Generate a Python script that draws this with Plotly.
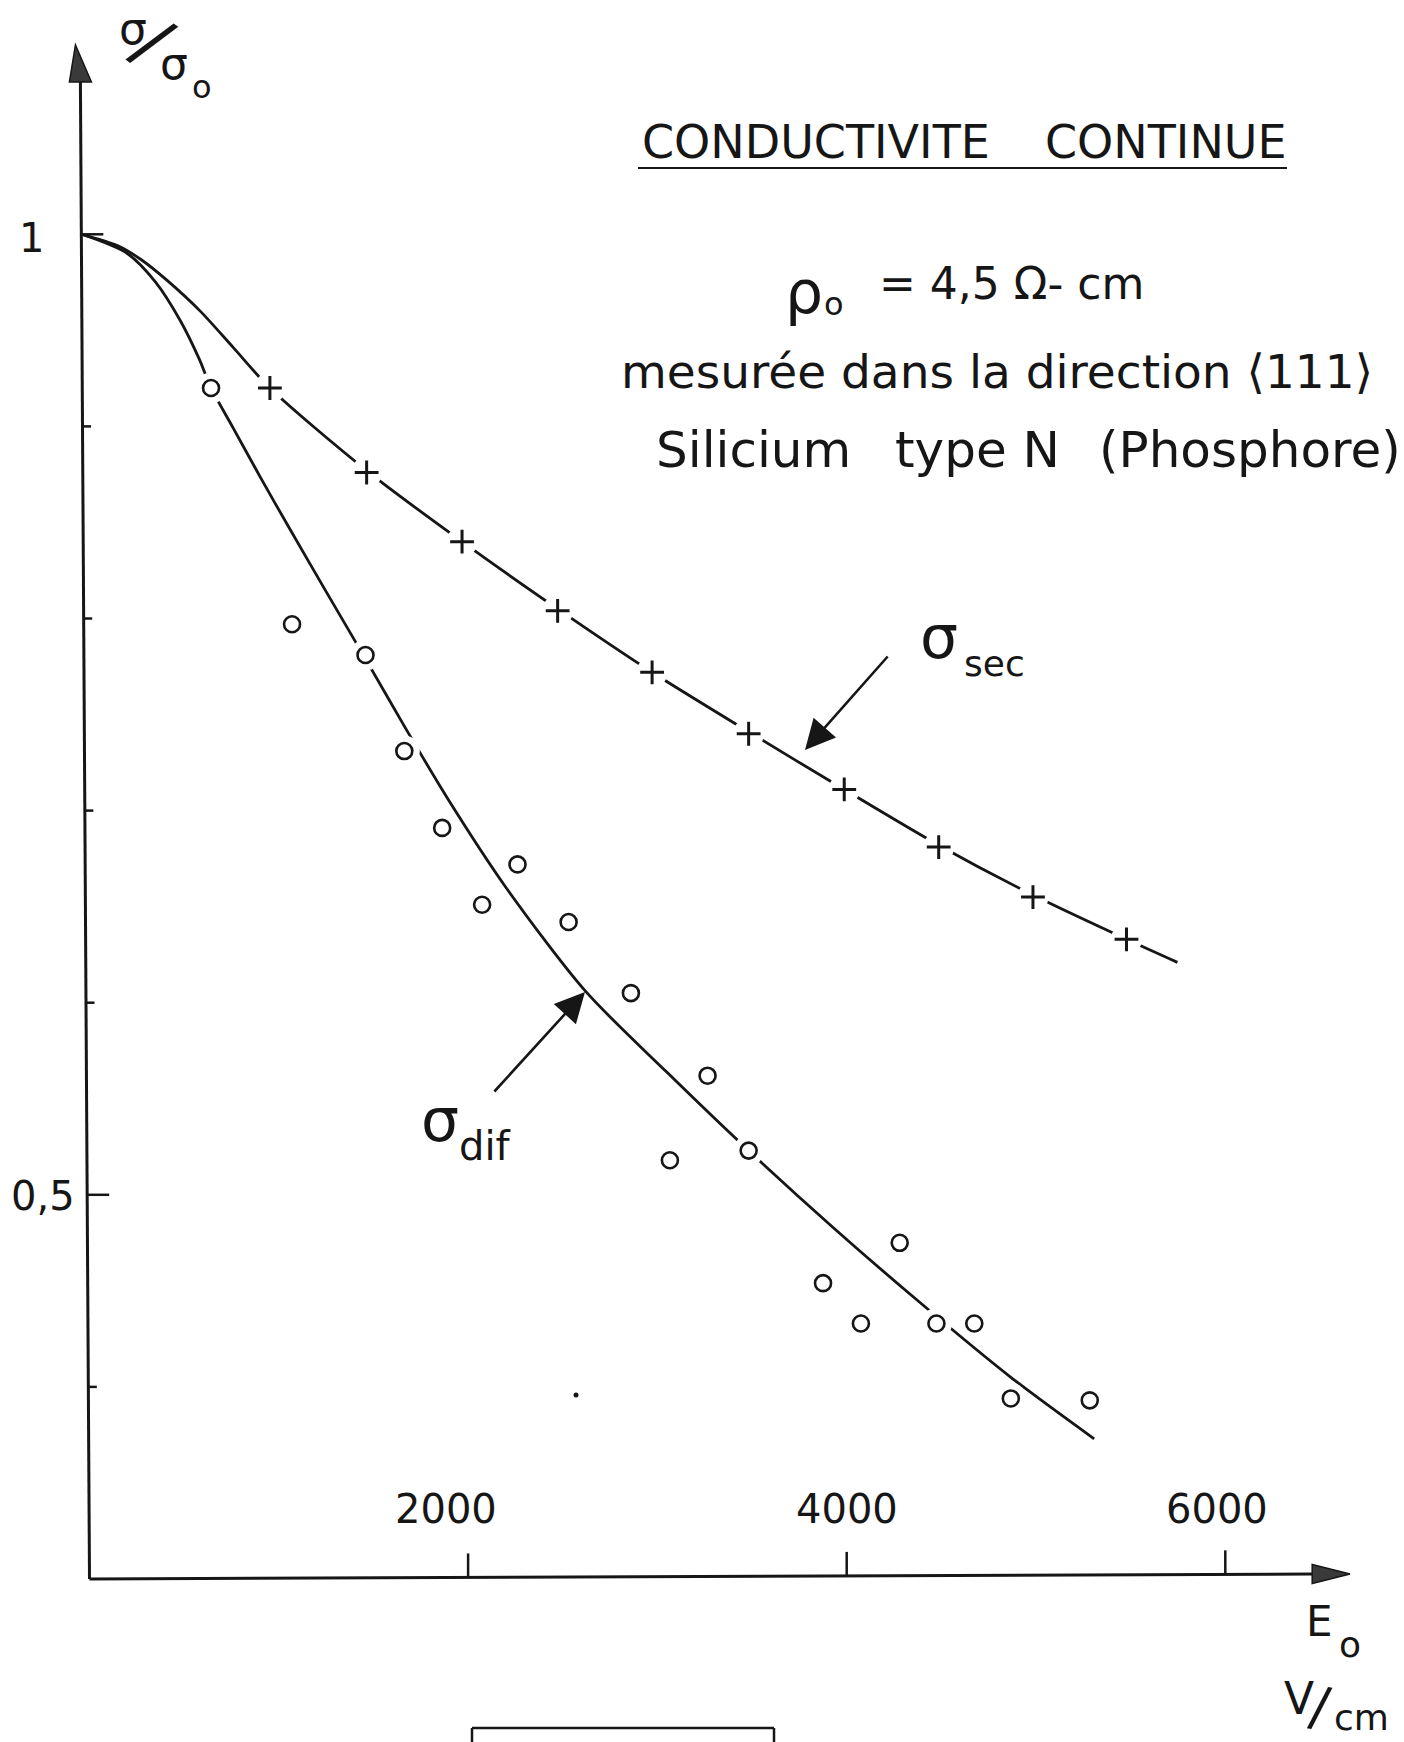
import plotly.graph_objects as go

W, H = 1404, 1742

# ---------------- data ----------------
# sigma_sec measured points (crosses)
sec_E = [953, 1464, 1968, 2473, 2972, 3482, 3987, 4486, 4984, 5478]
sec_s = [0.920, 0.876, 0.840, 0.804, 0.772, 0.740, 0.711, 0.681, 0.655, 0.633]

# sigma_dif measured points (circles)
dif_E = [642, 1070, 1458, 1663, 1863, 2074, 2261, 2531, 2860, 3066,
         3265, 3482, 3875, 4075, 4280, 4474, 4674, 4867, 5284]
dif_s = [0.920, 0.797, 0.781, 0.731, 0.691, 0.651, 0.672, 0.642, 0.605, 0.518,
         0.562, 0.523, 0.454, 0.433, 0.475, 0.433, 0.433, 0.394, 0.393]

# hand-drawn fitted curves
sec_curve_E = [-40, 150, 270, 410, 585, 760, 953, 1464, 1968, 2473, 2972,
               3482, 3987, 4486, 4984, 5478, 5747]
sec_curve_s = [1.000, 0.994, 0.987, 0.976, 0.960, 0.941, 0.920, 0.877, 0.840,
               0.805, 0.772, 0.741, 0.711, 0.682, 0.656, 0.633, 0.621]

dif_curve_E = [-40, 200, 350, 480, 580, 642, 760, 900, 1050, 1250, 1458, 1663,
               1900, 2200, 2620, 3048, 3482, 3928, 4398, 4867, 5307]
dif_curve_s = [1.000, 0.990, 0.975, 0.955, 0.935, 0.920, 0.899, 0.874, 0.848,
               0.814, 0.779, 0.744, 0.705, 0.660, 0.606, 0.564, 0.523, 0.483,
               0.443, 0.405, 0.373]

x_ticks = [2000, 4000, 6000]
x_tick_labels = ["2000", "4000", "6000"]
y_ticks = [0.4, 0.5, 0.6, 0.7, 0.8, 0.9, 1.0]
y_labelled = {0.5: "0,5", 1.0: "1"}

# ---------------- geometry of the sheet ----------------
X0_PX, PX_PER_E = 89.5, 0.1893
Y1_PX, PX_PER_S = 234.3, 1921.0
x_range = [-X0_PX / PX_PER_E, (W - X0_PX) / PX_PER_E]
y_range = [1 - (H - Y1_PX) / PX_PER_S, 1 + Y1_PX / PX_PER_S]

INK = "#161616"
FONT = "DejaVu Sans"


def px(xp, yp):
    """pixel position on the sheet -> paper coordinates"""
    return xp / W, 1 - yp / H


fig = go.Figure()

# curves
for cx, cy in [(sec_curve_E, sec_curve_s), (dif_curve_E, dif_curve_s)]:
    fig.add_trace(go.Scatter(x=cx, y=cy, mode="lines",
                             line=dict(color=INK, width=2.8, shape="spline", smoothing=0.8),
                             hoverinfo="skip", showlegend=False))
# white gaps around the plotted points
fig.add_trace(go.Scatter(x=sec_E + dif_E, y=sec_s + dif_s, mode="markers",
                         marker=dict(symbol="circle", size=31, color="white",
                                     line=dict(width=0)),
                         hoverinfo="skip", showlegend=False))
# points
fig.add_trace(go.Scatter(x=sec_E, y=sec_s, mode="markers", name="σ sec",
                         marker=dict(symbol="cross-thin", size=17,
                                     line=dict(color=INK, width=3)),
                         showlegend=False))
fig.add_trace(go.Scatter(x=dif_E, y=dif_s, mode="markers", name="σ dif",
                         marker=dict(symbol="circle-open", size=16, color=INK,
                                     line=dict(color=INK, width=2.6)),
                         showlegend=False))

shapes = []
# axes (slightly skewed like the scanned sheet)
y_top = 1.0793
x_top_shift = -48.0
y_bottom = 0.300


def axis_x_at(s):
    return x_top_shift * (s - y_bottom) / (y_top - y_bottom)


shapes.append(dict(type="line", xref="x", yref="y", x0=0, y0=y_bottom,
                   x1=x_top_shift, y1=y_top, line=dict(color=INK, width=3)))
x_end = 6459
shapes.append(dict(type="line", xref="x", yref="y", x0=0, y0=y_bottom,
                   x1=x_end, y1=0.3026, line=dict(color=INK, width=3)))
# arrow heads of the axes
ytip = 1 + (Y1_PX - 45) / PX_PER_S
hw = 11 / PX_PER_E
shapes.append(dict(type="path", xref="x", yref="y",
                   path=f"M {x_top_shift - 5 / PX_PER_E},{ytip} L {x_top_shift - hw},{y_top} "
                        f"L {x_top_shift + hw},{y_top} Z",
                   fillcolor="#3a3a3a", line=dict(color=INK, width=1.5)))
xtip = (1350 - X0_PX) / PX_PER_E
hh = 9.5 / PX_PER_S
shapes.append(dict(type="path", xref="x", yref="y",
                   path=f"M {xtip},{0.3026} L {x_end},{0.3026 + hh} L {x_end},{0.3026 - hh} Z",
                   fillcolor="#3a3a3a", line=dict(color=INK, width=1.5)))

# ticks
for t in y_ticks:
    ln = 22 if t in y_labelled else 8.5
    xa = axis_x_at(t)
    shapes.append(dict(type="line", xref="x", yref="y", x0=xa, y0=t,
                       x1=xa + ln / PX_PER_E, y1=t, line=dict(color=INK, width=2.5)))
for t in x_ticks:
    yb = 0.300 + 0.0026 * t / x_end
    shapes.append(dict(type="line", xref="x", yref="y", x0=t, y0=yb,
                       x1=t, y1=yb + 24 / PX_PER_S, line=dict(color=INK, width=2.5)))

# underline of the title
x0p, y0p = px(638, 168)
x1p, _ = px(1287, 168)
shapes.append(dict(type="line", xref="paper", yref="paper", x0=x0p, y0=y0p,
                   x1=x1p, y1=y0p, line=dict(color=INK, width=2.2)))

# paper frame at the bottom
for (a, b, c, d) in [(472, 1728, 774, 1728), (472, 1728, 472, 1745), (774, 1728, 774, 1745)]:
    p0 = px(a, b)
    p1 = px(c, d)
    shapes.append(dict(type="line", xref="paper", yref="paper", x0=p0[0], y0=p0[1],
                       x1=p1[0], y1=p1[1], line=dict(color=INK, width=2.5)))
# stray dot of the scan
p0 = px(573.5, 1392.5)
p1 = px(578.5, 1397.5)
shapes.append(dict(type="circle", xref="paper", yref="paper", x0=p0[0], y0=p0[1],
                   x1=p1[0], y1=p1[1], fillcolor=INK, line=dict(width=0)))

annotations = []


def text(t, xp, yp, size, xanchor="center", angle=0):
    xx, yy = px(xp, yp)
    annotations.append(dict(text=t, x=xx, y=yy, xref="paper", yref="paper",
                            xanchor=xanchor, yanchor="middle", showarrow=False,
                            textangle=angle,
                            font=dict(family=FONT, size=size, color=INK)))


# tick labels
for t, lab in zip(x_ticks, x_tick_labels):
    annotations.append(dict(text=lab, x=t - (22 if t == 2000 else (8 if t == 6000 else 0)) * 1 / PX_PER_E,
                            y=0.300 + 70 / PX_PER_S, xref="x", yref="y",
                            xanchor="center", yanchor="middle", showarrow=False,
                            font=dict(family=FONT, size=40, color=INK)))
text("1", 31, 238, 40)
text("0,5", 43, 1196, 40)

# axis titles
text("σ", 133, 28, 44)
text("/", 153, 42, 70, angle=36)
text("σ", 174, 63, 44)
text("o", 202, 87, 32)
text("E", 1319, 1621, 42)
text("o", 1350, 1644, 36)
text("V", 1299, 1698, 44)
text("/", 1320, 1706, 54, angle=10)
text("cm", 1361, 1717, 36)

# title & notes
text("CONDUCTIVITE", 816, 142, 46)
text("CONTINUE", 1166, 142, 46)
text("ρ", 804, 292, 60)
text("o", 834, 304, 32)
text("= 4,5 Ω- cm", 1012, 283, 44)
text("mesurée dans la direction ⟨111⟩", 997, 371, 47)
text("Silicium", 753, 450, 50)
text("type N", 977, 450, 50)
text("(Phosphore)", 1097, 450, 50, xanchor="left")

# curve labels
text("σ", 939, 637, 60)
text("sec", 994, 664, 36)
text("σ", 440, 1120, 60)
text("dif", 485, 1146, 40)

# pointer arrows
for (hx, hy, tx, ty) in [(805, 750, 889, 655), (585, 992, 493, 1093)]:
    xx, yy = px(hx, hy)
    annotations.append(dict(text="", x=xx, y=yy, xref="paper", yref="paper",
                            ax=tx - hx, ay=ty - hy, axref="pixel", ayref="pixel",
                            showarrow=True, arrowhead=2, arrowsize=2.3,
                            arrowwidth=2.6, arrowcolor=INK, standoff=0))

fig.update_layout(
    width=W, height=H, autosize=False,
    margin=dict(l=0, r=0, t=0, b=0),
    paper_bgcolor="white", plot_bgcolor="white",
    xaxis=dict(range=x_range, visible=False, fixedrange=True),
    yaxis=dict(range=y_range, visible=False, fixedrange=True),
    shapes=shapes, annotations=annotations, showlegend=False,
)

fig.write_html("out.html")
